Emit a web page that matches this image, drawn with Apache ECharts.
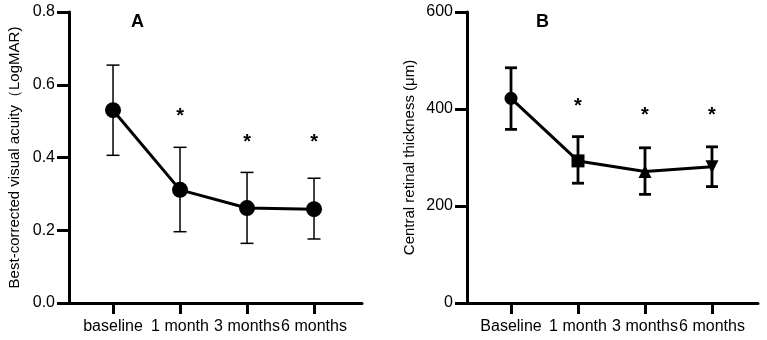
<!DOCTYPE html>
<html>
<head>
<meta charset="utf-8">
<script src="https://cdn.jsdelivr.net/npm/echarts@6/dist/echarts.min.js"></script>
<style>html,body{margin:0;padding:0;background:#fff}#c{width:767px;height:340px}</style>
</head>
<body>
<div id="c"></div>
<script>
var categoriesA = ['baseline', '1 month', '3 months', '6 months'];
var categoriesB = ['Baseline', '1 month', '3 months', '6 months'];
var bcvaMean = [0.530, 0.311, 0.261, 0.258];
var bcvaLow  = [0.406, 0.196, 0.164, 0.176];
var bcvaHigh = [0.654, 0.428, 0.359, 0.343];
var bcvaStar = [null, 0.512, 0.440, 0.440];
var crtMean = [422, 293, 271, 281];
var crtLow  = [358, 247, 224, 240];
var crtHigh = [485, 343, 320, 322];
var crtStar = [null, 406, 386, 386];
var crtSymbols = ['circle', 'rect', 'triangle', 'triangle'];
var crtRotate = [0, 0, 0, 180];

var FONT = 'Liberation Sans, Arial, sans-serif';
var chart = echarts.init(document.getElementById('c'), null, {renderer: 'canvas'});

function pos(i) { return i + 1; }

function errSeries(xi, yi, low, high, lw, cap) {
  return {
    type: 'custom', xAxisIndex: xi, yAxisIndex: yi, z: 3,
    data: low.map(function (l, i) { return [pos(i), l, high[i]]; }),
    renderItem: function (params, api) {
      var x = api.value(0);
      var p1 = api.coord([x, api.value(1)]);
      var p2 = api.coord([x, api.value(2)]);
      var st = {stroke: '#000', lineWidth: lw};
      return {type: 'group', children: [
        {type: 'line', shape: {x1: p1[0], y1: p1[1], x2: p2[0], y2: p2[1]}, style: st},
        {type: 'line', shape: {x1: p1[0] - cap, y1: p1[1], x2: p1[0] + cap, y2: p1[1]}, style: st},
        {type: 'line', shape: {x1: p2[0] - cap, y1: p2[1], x2: p2[0] + cap, y2: p2[1]}, style: st}
      ]};
    }
  };
}

function starSeries(xi, yi, vals) {
  var d = [];
  vals.forEach(function (v, i) { if (v !== null) d.push([pos(i), v]); });
  return {
    type: 'custom', xAxisIndex: xi, yAxisIndex: yi, z: 4, data: d,
    renderItem: function (params, api) {
      var p = api.coord([api.value(0), api.value(1)]);
      return {type: 'text', x: p[0], y: p[1], style: {text: '*', fill: '#000', font: 'bold 20px ' + FONT, align: 'center', verticalAlign: 'middle'}};
    }
  };
}

function xAxis(gi, min, max, cats) {
  return {
    type: 'value', gridIndex: gi, min: min, max: max,
    splitLine: {show: false},
    axisLine: {show: true, lineStyle: {color: '#000', width: 3}},
    axisTick: {show: true, customValues: [1, 2, 3, 4], length: 11, lineStyle: {color: '#000', width: 3}},
    axisLabel: {customValues: [1, 2, 3, 4], margin: 16, color: '#000', fontSize: 16, fontFamily: FONT,
      formatter: function (v) { return cats[Math.round(v) - 1] || ''; }}
  };
}

function yAxis(gi, max, interval, name, dec, gap) {
  return {
    type: 'value', gridIndex: gi, min: 0, max: max, interval: interval,
    name: name, nameLocation: 'middle', nameGap: gap, nameRotate: 90,
    nameTextStyle: {color: '#000', fontSize: 15, fontFamily: FONT},
    splitLine: {show: false},
    axisLine: {show: true, lineStyle: {color: '#000', width: 3}},
    axisTick: {show: true, length: 12, lineStyle: {color: '#000', width: 3}},
    axisLabel: {margin: 14, color: '#000', fontSize: 16, fontFamily: FONT,
      formatter: function (v) { return dec ? v.toFixed(1) : String(v); }}
  };
}

chart.setOption({
  animation: false,
  backgroundColor: '#fff',
  grid: [
    {left: 69, right: 405, top: 12, bottom: 37},
    {left: 467, right: 9, top: 12, bottom: 37}
  ],
  xAxis: [xAxis(0, 0.343, 4.716, categoriesA), xAxis(1, 0.343, 4.687, categoriesB)],
  yAxis: [
    yAxis(0, 0.8, 0.2, 'Best-corrected visual acuity（LogMAR)', true, 47),
    yAxis(1, 600, 200, 'Central retinal thickness (μm)', false, 50)
  ],
  graphic: [
    {type: 'text', left: 131, top: 13, style: {text: 'A', font: 'bold 18px ' + FONT, fill: '#000'}},
    {type: 'text', left: 536, top: 13, style: {text: 'B', font: 'bold 18px ' + FONT, fill: '#000'}}
  ],
  series: [
    errSeries(0, 0, bcvaLow, bcvaHigh, 1.5, 6.5),
    {type: 'line', xAxisIndex: 0, yAxisIndex: 0, z: 5,
      data: bcvaMean.map(function (v, i) { return [pos(i), v]; }),
      symbol: 'circle', symbolSize: 16,
      lineStyle: {color: '#000', width: 3}, itemStyle: {color: '#000'}},
    starSeries(0, 0, bcvaStar),
    errSeries(1, 1, crtLow, crtHigh, 2.8, 6),
    {type: 'line', xAxisIndex: 1, yAxisIndex: 1, z: 5,
      data: crtMean.map(function (v, i) {
        return {value: [pos(i), v], symbol: crtSymbols[i], symbolRotate: crtRotate[i]};
      }),
      symbolSize: 13,
      lineStyle: {color: '#000', width: 3}, itemStyle: {color: '#000'}},
    starSeries(1, 1, crtStar)
  ]
});
</script>
</body>
</html>
